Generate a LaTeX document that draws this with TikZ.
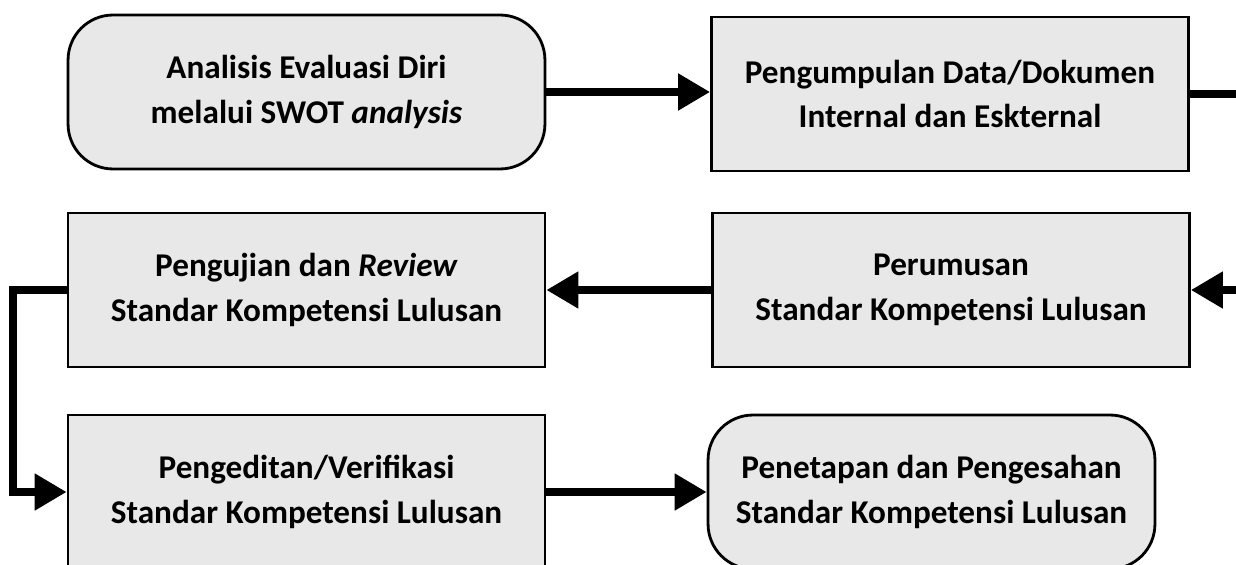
\documentclass[tikz,border=0pt]{standalone}
\usepackage{fontspec}
\setmainfont{Carlito}
\usetikzlibrary{arrows.meta,positioning}
\definecolor{boxgray}{HTML}{E8E8E8}

\begin{document}
\begin{tikzpicture}[x=0.02cm, y=-0.02cm,
  box/.style={draw, line width=1.6pt, fill=boxgray, minimum width=9.54cm,
    minimum height=3.08cm, align=center,
    font=\bfseries\fontsize{18.9}{25.5}\selectfont},
  roundbox/.style={box, rounded corners=0.9cm},
  flow/.style={line width=4.5pt, -{Triangle[length=0.64cm, width=0.7cm]}}]
  \path[use as bounding box, clip] (0,0) rectangle (1236,564);
  \node[roundbox] (analisis) at (306.5,92) {Analisis Evaluasi Diri\\melalui SWOT \textit{analysis}};
  \node[box] (pengumpulan) at (950,94) {Pengumpulan Data/Dokumen\\Internal dan Eskternal};
  \node[box] (perumusan) at (951,290) {Perumusan\\Standar Kompetensi Lulusan};
  \node[box] (pengujian) at (306.5,290) {Pengujian dan \textit{Review}\\Standar Kompetensi Lulusan};
  \node[box] (pengeditan) at (306.5,492) {Pengeditan/Verifikasi\\Standar Kompetensi Lulusan};
  \node[roundbox, minimum width=8.94cm] (penetapan) at (931.5,492) {Penetapan dan Pengesahan\\Standar Kompetensi Lulusan};
  \draw[flow] (analisis.east) -- (analisis.east -| pengumpulan.west);
  \draw[flow] (pengumpulan.east) -- ++(80,0) |- (perumusan.east);
  \draw[flow] (perumusan) -- (pengujian);
  \draw[flow] (pengujian.west) -- ++(-54,0) |- (pengeditan.west);
  \draw[flow] (pengeditan) -- (penetapan);
\end{tikzpicture}
\end{document}
